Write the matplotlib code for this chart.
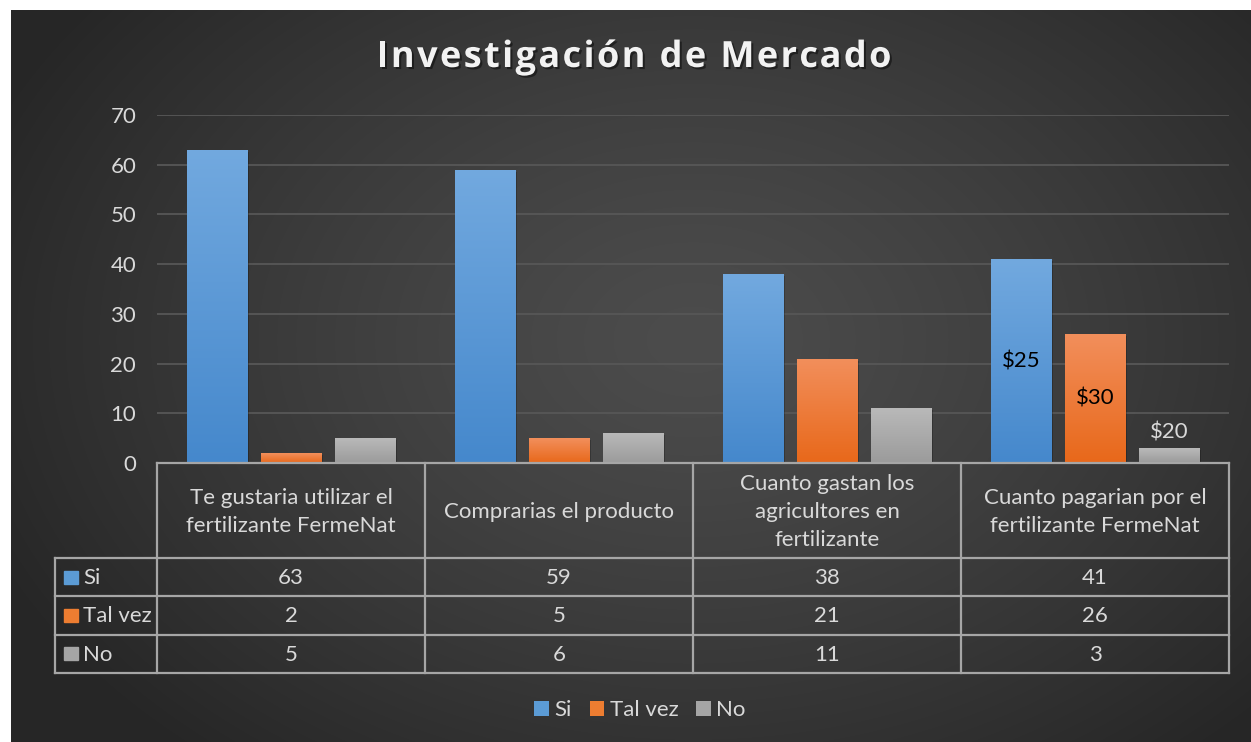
import numpy as np
import matplotlib
matplotlib.use("Agg")
import matplotlib.pyplot as plt
from matplotlib.patches import Patch, Rectangle
from matplotlib.colors import LinearSegmentedColormap
import matplotlib.patheffects as pe
from matplotlib.textpath import TextToPath
from matplotlib.font_manager import FontProperties

# ---------------- data ----------------
title = "Investigación de Mercado"
categories = [
    "Te gustaria utilizar el\nfertilizante FermeNat",
    "Comprarias el producto",
    "Cuanto gastan los\nagricultores en\nfertilizante",
    "Cuanto pagarian por el\nfertilizante FermeNat",
]
series_names = ["Si", "Tal vez", "No"]
si = [63, 59, 38, 41]
tal_vez = [2, 5, 21, 26]
no = [5, 6, 11, 3]
price_labels = ["$25", "$30", "$20"]   # labels on the last group (Si, Tal vez, No)
yticks = [0, 10, 20, 30, 40, 50, 60, 70]

# ---------------- style ----------------
FONT = "Lato"
FS = 16
TXT = "#d9d9d9"
LINE = "#a6a6a6"
grads = [("#72a9df", "#4588cc"), ("#f28f5c", "#e8681a"), ("#b9b9b9", "#9b9b9b")]
solid = ["#5b9bd5", "#ed7d31", "#a5a5a5"]

W, H = 1251, 742
fig = plt.figure(figsize=(W / 100, H / 100), dpi=100)
fig.patch.set_facecolor("white")

# background radial gradient
bg = fig.add_axes([11 / W, 0, 1 - 11 / W, 1 - 10 / H])
bg.axis("off")
hh, ww = H - 10, W - 11
yy, xx = np.mgrid[0:hh, 0:ww]
cx, cy = ww * 0.55, hh * 0.45
d = np.sqrt(((xx - cx) / (ww * 0.62)) ** 2 + ((yy - cy) / (hh * 0.75)) ** 2)
d = np.clip(d, 0, 1)
v = 0.298 - (0.298 - 0.150) * d ** 1.3
bg.imshow(np.dstack([v, v, v]), aspect="auto", extent=[0, 1, 0, 1])
bg.set_xlim(0, 1); bg.set_ylim(0, 1)

# main axes
ax = fig.add_axes([157 / W, (H - 463) / H, (1229 - 157) / W, (463 - 115) / H])
ax.set_facecolor("none")
ax.set_xlim(-0.5, len(categories) - 0.5)
ax.set_ylim(0, 70)
ax.set_yticks(yticks)
ax.set_xticks([])
ax.tick_params(axis="y", length=0, pad=15, labelcolor=TXT, labelsize=FS)
for lab in ax.get_yticklabels():
    lab.set_fontfamily(FONT)
for s in ax.spines.values():
    s.set_visible(False)
ax.grid(axis="y", color="#575757", lw=1.3)
ax.set_axisbelow(True)

x = np.arange(len(categories))
width = 0.224
offs = [-0.276, 0.0, 0.276]
series = [si, tal_vez, no]
all_bars = []
for k, (vals, off) in enumerate(zip(series, offs)):
    bars = ax.bar(x + off, vals, width, color=solid[k], zorder=2,
                  path_effects=[pe.SimplePatchShadow(offset=(1.5, -1.5), alpha=0.22, shadow_rgbFace="black"), pe.Normal()])
    cmap = LinearSegmentedColormap.from_list("g%d" % k, [grads[k][1], grads[k][0]])
    grad = np.linspace(0, 1, 256).reshape(-1, 1)
    for r in bars:
        im = ax.imshow(grad, extent=[r.get_x(), r.get_x() + r.get_width(), 0, r.get_height()],
                       origin="lower", aspect="auto", cmap=cmap, zorder=2.1)
        im.set_clip_path(r)
    all_bars.append(bars)
ax.set_xlim(-0.5, len(categories) - 0.5)
ax.set_ylim(0, 70)

# price labels on last group
last = len(categories) - 1
for k, lab in enumerate(price_labels):
    r = all_bars[k][last]
    cxr = r.get_x() + r.get_width() / 2
    if k < 2:
        ax.text(cxr, r.get_height() / 2, lab, ha="center", va="center", fontsize=FS,
                family=FONT, color="black", zorder=3)
    else:
        ax.annotate(lab, (cxr, r.get_height()), xytext=(0, 4), textcoords="offset points",
                    ha="center", va="bottom", fontsize=FS, family=FONT, color=TXT, zorder=3)

# ---------------- table (overlay in pixel coords) ----------------
ov = fig.add_axes([0, 0, 1, 1])
ov.set_xlim(0, W); ov.set_ylim(H, 0)
ov.axis("off")
ov.set_zorder(5)

edges = [ax.transData.transform((i - 0.5, 0))[0] for i in range(len(categories) + 1)]
y0 = H - ax.transData.transform((0, 0))[1]
hdr_h = 95
row_h = 38.3
left = 55
ys = [y0, y0 + hdr_h] + [y0 + hdr_h + row_h * (i + 1) for i in range(len(series_names))]
lk = dict(color=LINE, lw=1.6, solid_capstyle="projecting")
ov.plot([edges[0], edges[-1]], [ys[0], ys[0]], **lk)
for yv in ys[1:]:
    ov.plot([left, edges[-1]], [yv, yv], **lk)
for xe in edges:
    ov.plot([xe, xe], [ys[0], ys[-1]], **lk)
ov.plot([left, left], [ys[1], ys[-1]], **lk)

for i, c in enumerate(categories):
    xc = (edges[i] + edges[i + 1]) / 2
    ov.text(xc, (ys[0] + ys[1]) / 2 + 1, c, ha="center", va="center", fontsize=FS,
            family=FONT, color=TXT, linespacing=1.5)
    for k in range(len(series_names)):
        ov.text(xc, (ys[k + 1] + ys[k + 2]) / 2 + 1, str(series[k][i]), ha="center", va="center",
                fontsize=FS, family=FONT, color=TXT)
for k, name in enumerate(series_names):
    yc = (ys[k + 1] + ys[k + 2]) / 2
    ov.add_patch(Rectangle((64, yc - 6.5), 14, 13, color=solid[k]))
    ov.text(83, yc + 1, name, ha="left", va="center", fontsize=FS, family=FONT, color=TXT)

# ---------------- title with letter spacing ----------------
fp = FontProperties(family="Open Sans", weight="bold", size=26)
ttp = TextToPath()
def wpx(s):
    w, h, dsc = ttp.get_text_width_height_descent(s, fp, ismath=False)
    return w * 100 / 72
spacing = 2.4
ref = wpx("|")
xs = [wpx(title[:i] + "|") - ref if i > 0 else 0 for i in range(len(title))]
xs = [xv + i * spacing for i, xv in enumerate(xs)]
total = wpx(title) + spacing * (len(title) - 1)
x_start = 634 - total / 2
for ch, xv in zip(title, xs):
    if ch == " ":
        continue
    ov.text(x_start + xv, 58, ch, fontproperties=fp, color="#f2f2f2", ha="left", va="center",
            path_effects=[pe.withSimplePatchShadow(offset=(1.5, -1.5), alpha=0.45, shadow_rgbFace="black")])

# ---------------- legend ----------------
handles = [Patch(facecolor=solid[k], edgecolor="none") for k in range(3)]
leg = fig.legend(handles, series_names, loc="center", bbox_to_anchor=(640 / W, 1 - 710 / H), ncol=3,
                 frameon=False, handlelength=0.65, handleheight=0.65, handletextpad=0.25,
                 columnspacing=0.8, prop=FontProperties(family=FONT, size=FS))
for t in leg.get_texts():
    t.set_color(TXT)

fig.savefig("out.png", dpi=100, facecolor=fig.get_facecolor())
